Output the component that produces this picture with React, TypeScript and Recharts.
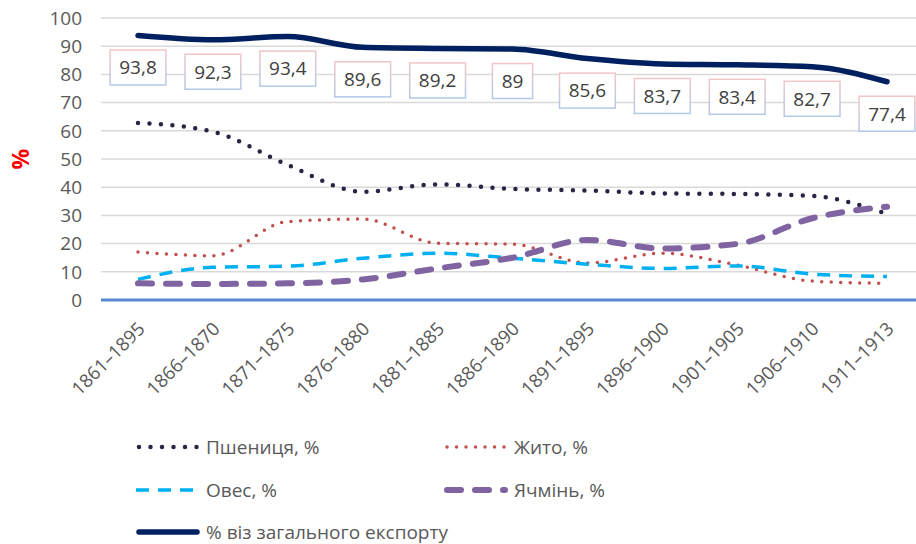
import React from 'react';
import { LineChart, Line, XAxis, YAxis, CartesianGrid, LabelList, Label } from 'recharts';

const categories = [
  '1861–1895', '1866–1870', '1871–1875', '1876–1880', '1881–1885', '1886–1890',
  '1891–1895', '1896–1900', '1901–1905', '1906–1910', '1911–1913',
];
const wheat = [62.8, 59.7, 47.9, 38.4, 41, 39.4, 38.8, 37.8, 37.6, 36.9, 30.5];
const rye = [17, 15.7, 27.8, 28.7, 20.1, 19.8, 13.1, 16.6, 12.4, 6.7, 5.9];
const oats = [7.3, 11.6, 12, 14.8, 16.6, 14.8, 12.7, 11.2, 12.1, 9.2, 8.3];
const barley = [5.9, 5.7, 5.9, 7.3, 11.2, 15, 21.3, 18.3, 19.9, 29, 33.1];
const total = [93.8, 92.3, 93.4, 89.6, 89.2, 89, 85.6, 83.7, 83.4, 82.7, 77.4];
const yTicks = [0, 10, 20, 30, 40, 50, 60, 70, 80, 90, 100];

const data = categories.map((period, i) => ({
  period,
  wheat: wheat[i],
  rye: rye[i],
  oats: oats[i],
  barley: barley[i],
  total: total[i],
}));

const FONT = '"Open Sans", "Noto Sans", sans-serif';
const TEXT = '#595959';

type SeriesDef = {
  key: string;
  name: string;
  color: string;
  width: number;
  dash?: string;
  cap: 'round' | 'butt';
};

const series: SeriesDef[] = [
  { key: 'wheat', name: 'Пшениця, %', color: '#2F2345', width: 4.5, dash: '0 11.5', cap: 'round' },
  { key: 'rye', name: 'Жито, %', color: '#C0504D', width: 3.5, dash: '0 9.5', cap: 'round' },
  { key: 'oats', name: 'Овес, %', color: '#00B0F0', width: 3.5, dash: '13 9', cap: 'butt' },
  { key: 'barley', name: 'Ячмінь, %', color: '#8064A2', width: 6, dash: '14 14', cap: 'round' },
  { key: 'total', name: '% віз загального експорту', color: '#002060', width: 5.5, cap: 'round' },
];

const XTick = (props: any) => {
  const { x, y, payload } = props;
  return (
    <g transform={`translate(${x + 8},${y + 22})`}>
      <text
        x={0}
        y={0}
        textAnchor="end"
        transform="rotate(-45)"
        fill={TEXT}
        fontSize={18.5}
        fontFamily={FONT}
      >
        {payload.value}
      </text>
    </g>
  );
};

const ValueBox = (props: any) => {
  const { x, y, value } = props;
  const s = String(value).replace('.', ',');
  const digits = s.replace(',', '').length;
  const w = digits * 10.6 + (s.includes(',') ? 5 : 0) + 19;
  const h = 35;
  const cy = y + 32;
  return (
    <g>
      <rect
        x={x - w / 2}
        y={cy - h / 2}
        width={w}
        height={h}
        fill="#ffffff"
        stroke="url(#boxBorder)"
        strokeWidth={1.5}
      />
      <text
        x={x}
        y={cy}
        dy="0.36em"
        textAnchor="middle"
        fill="#404040"
        fontSize={19}
        fontFamily={FONT}
      >
        {s}
      </text>
    </g>
  );
};

const AxisTitle = () => (
  <text
    x={20}
    y={159}
    transform="rotate(-90, 20, 159)"
    textAnchor="middle"
    dominantBaseline="central"
    fill="#FF0000"
    fontSize={23}
    fontWeight="bold"
    fontFamily={FONT}
  >
    %
  </text>
);

const LegendSample = ({ s }: { s: SeriesDef }) => (
  <svg width={66} height={12} style={{ display: 'block' }}>
    <line
      x1={s.cap === 'round' ? 4 : 1}
      y1={6}
      x2={s.cap === 'round' ? 62 : 65}
      y2={6}
      stroke={s.color}
      strokeWidth={s.width}
      strokeDasharray={s.dash}
      strokeLinecap={s.cap}
    />
  </svg>
);

const legendPos: Record<string, { left: number; top: number }> = {
  wheat: { left: 135, top: 447 },
  rye: { left: 443, top: 447 },
  oats: { left: 135, top: 490 },
  barley: { left: 443, top: 490 },
  total: { left: 135, top: 532 },
};

const App = () => (
  <div style={{ position: 'absolute', left: 0, top: 0, width: 916, height: 544, background: '#fff' }}>
    <LineChart
      width={916}
      height={544}
      data={data}
      margin={{ top: 18, right: 0, bottom: 0, left: 0 }}
    >
      <defs>
        <linearGradient id="boxBorder" x1="0" y1="0" x2="0" y2="1">
          <stop offset="0%" stopColor="#F2C6C6" />
          <stop offset="100%" stopColor="#B4C8E8" />
        </linearGradient>
      </defs>
      <CartesianGrid vertical={false} stroke="#D9D9D9" strokeWidth={1.5} />
      <XAxis
        dataKey="period"
        interval={0}
        padding={{ left: 37, right: 29 }}
        axisLine={{ stroke: '#5687D0', strokeWidth: 3 }}
        tickLine={false}
        tick={<XTick />}
        height={244}
      />
      <YAxis
        domain={[0, 100]}
        ticks={yTicks}
        width={101}
        axisLine={false}
        tickLine={false}
        tickMargin={13}
        tick={{ fill: TEXT, fontSize: 19, fontFamily: FONT }}
      >
        <Label content={<AxisTitle />} />
      </YAxis>
      {series.map((s) => (
        <Line
          key={s.key}
          type="monotone"
          dataKey={s.key}
          name={s.name}
          stroke={s.color}
          strokeWidth={s.width}
          strokeDasharray={s.dash}
          strokeLinecap={s.cap}
          dot={false}
          activeDot={false}
          isAnimationActive={false}
        >
          {s.key === 'total' && <LabelList dataKey="total" content={<ValueBox />} />}
        </Line>
      ))}
    </LineChart>
    {series.map((s) => (
      <div
        key={s.key}
        style={{
          position: 'absolute',
          left: legendPos[s.key].left,
          top: legendPos[s.key].top - 12,
          height: 24,
          display: 'flex',
          alignItems: 'center',
          gap: 5,
          fontFamily: FONT,
          fontSize: 19,
          color: TEXT,
          whiteSpace: 'nowrap',
        }}
      >
        <LegendSample s={s} />
        <span>{s.name}</span>
      </div>
    ))}
  </div>
);

export default App;
